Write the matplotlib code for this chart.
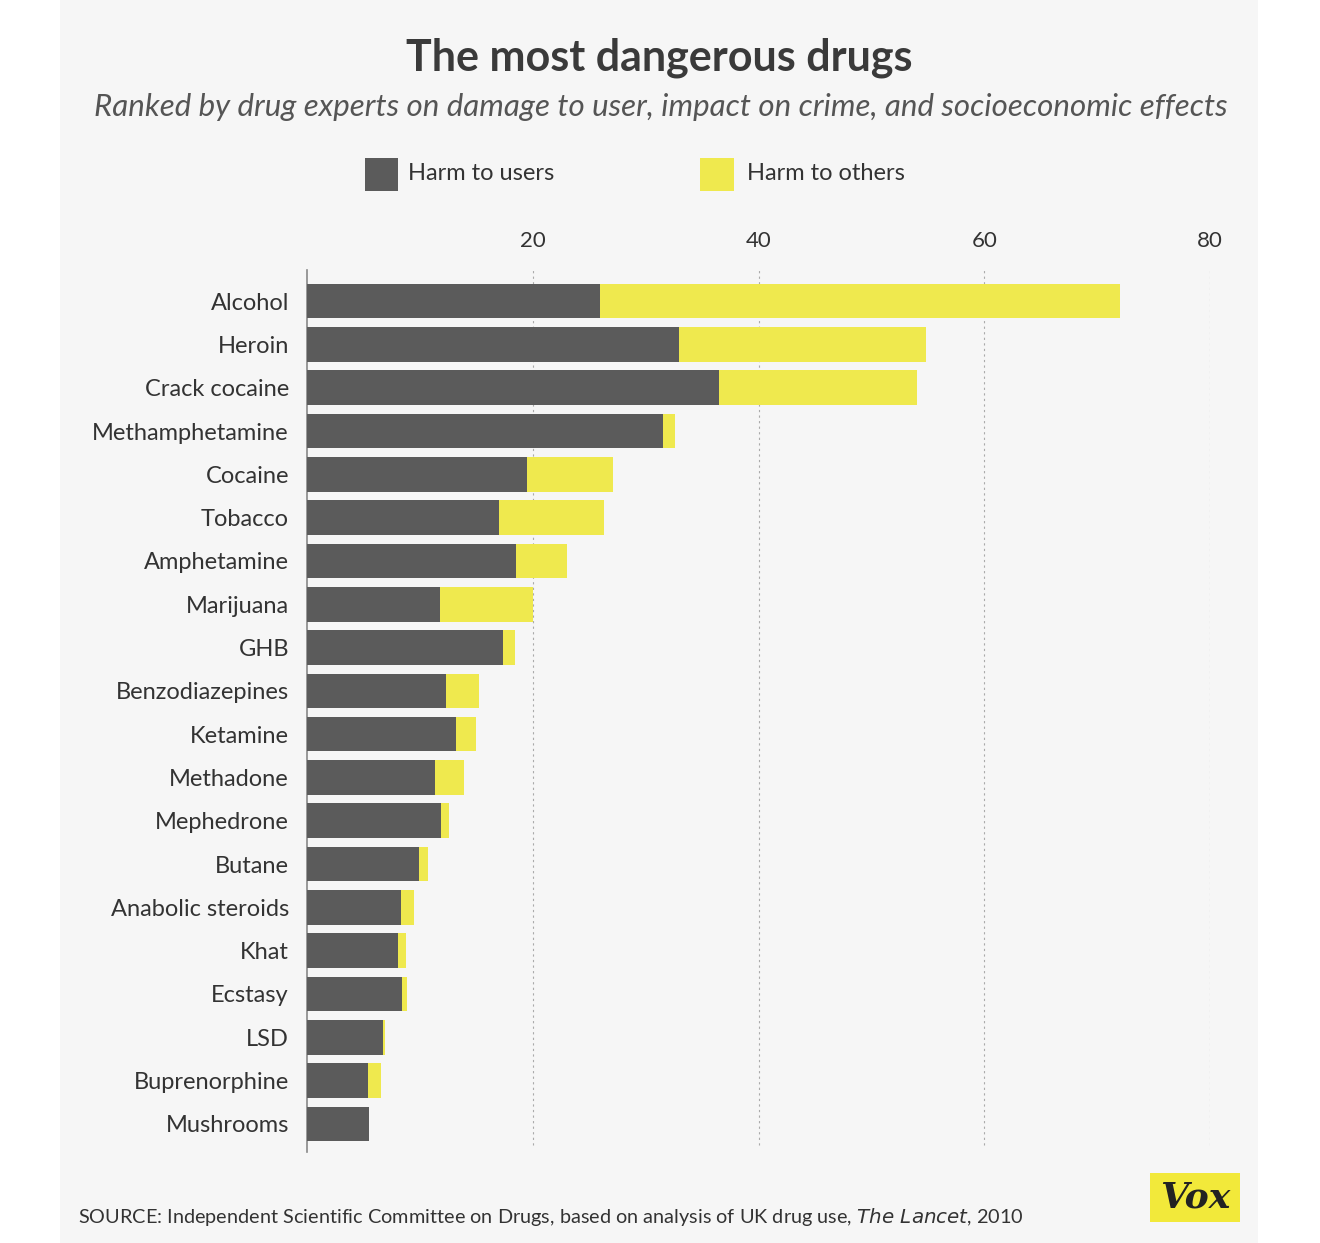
import matplotlib.pyplot as plt
from matplotlib.patches import Rectangle

# Data
drugs = ["Alcohol", "Heroin", "Crack cocaine", "Methamphetamine", "Cocaine",
         "Tobacco", "Amphetamine", "Marijuana", "GHB", "Benzodiazepines",
         "Ketamine", "Methadone", "Mephedrone", "Butane", "Anabolic steroids",
         "Khat", "Ecstasy", "LSD", "Buprenorphine", "Mushrooms"]
harm_users = [26, 33, 36.5, 31.5, 19.5, 17, 18.5, 11.8, 17.4, 12.3,
              13.2, 11.3, 11.9, 9.9, 8.3, 8.1, 8.4, 6.7, 5.4, 5.5]
harm_others = [46, 21.8, 17.5, 1.1, 7.6, 9.3, 4.5, 8.2, 1.0, 2.9,
               1.8, 2.6, 0.7, 0.8, 1.2, 0.7, 0.5, 0.2, 1.2, 0.0]
ticks = [20, 40, 60, 80]

DARK = "#5b5b5b"
YELLOW = "#efe94e"
BG = "#f6f6f6"
TEXT = "#333333"

plt.rcParams['font.family'] = ['Lato', 'DejaVu Sans']

fig = plt.figure(figsize=(13.2, 12.43), dpi=100)
fig.patch.set_facecolor("white")

# light panel behind everything
fig.patches.append(Rectangle((60 / 1320, 0), 1198 / 1320, 1, transform=fig.transFigure,
                             facecolor=BG, edgecolor="none", zorder=-10))

ax = fig.add_axes([307 / 1320, 1 - 1152 / 1243, 903 / 1320, 882 / 1243])
ax.set_facecolor(BG)

y = list(range(len(drugs)))
ax.barh(y, harm_users, height=0.8, color=DARK, zorder=3)
ax.barh(y, harm_others, left=harm_users, height=0.8, color=YELLOW, zorder=3)

ax.set_xlim(0, 80)
ax.set_ylim(19.65, -0.72)
ax.set_yticks(y)
ax.set_yticklabels(drugs, fontsize=17, color=TEXT)
ax.tick_params(axis='y', length=0, pad=13)
ax.set_xticks([])

for t in ticks:
    ax.axvline(t, ymin=0.008, ymax=1, color="#aaaaaa", linestyle=(0, (2, 3)), linewidth=0.8, zorder=1)
    ax.text(t, -1.4, str(t), ha="center", va="center", fontsize=16, color=TEXT)

for side in ["top", "right", "bottom"]:
    ax.spines[side].set_visible(False)
ax.spines["left"].set_color("#888888")
ax.spines["left"].set_linewidth(1.2)

# title and subtitle
fig.text(659 / 1320, 1 - 58 / 1243, "The most dangerous drugs", ha="center", va="center",
         fontsize=31, fontweight="bold", color="#3a3a3a")
fig.text(661 / 1320, 1 - 107 / 1243,
         "Ranked by drug experts on damage to user, impact on crime, and socioeconomic effects",
         ha="center", va="center", fontsize=22.5, style="italic", color="#555555")

# legend
fig.patches.append(Rectangle((365 / 1320, 1 - 191 / 1243), 33 / 1320, 33 / 1243,
                             transform=fig.transFigure, facecolor=DARK, edgecolor="none"))
fig.text(408 / 1320, 1 - 174 / 1243, "Harm to users", ha="left", va="center",
         fontsize=17, color=TEXT)
fig.patches.append(Rectangle((700 / 1320, 1 - 191 / 1243), 34 / 1320, 33 / 1243,
                             transform=fig.transFigure, facecolor=YELLOW, edgecolor="none"))
fig.text(747 / 1320, 1 - 174 / 1243, "Harm to others", ha="left", va="center",
         fontsize=17, color=TEXT)

# source
fig.text(78 / 1320, 1 - 1217 / 1243,
         "SOURCE: Independent Scientific Committee on Drugs, based on analysis of UK drug use, $\\it{The\\ Lancet}$, 2010",
         ha="left", va="center", fontsize=14.3, color=TEXT)

# Vox logo
fig.patches.append(Rectangle((1150 / 1320, 1 - 1222 / 1243), 90 / 1320, 49 / 1243,
                             transform=fig.transFigure, facecolor="#f2e93a", edgecolor="none"))
fig.text(1195 / 1320, 1 - 1198 / 1243, "Vox", ha="center", va="center", fontsize=26,
         fontweight="bold", style="italic", family="DejaVu Serif", color="#222222")

fig.savefig("out.png", dpi=100, facecolor=fig.get_facecolor())
